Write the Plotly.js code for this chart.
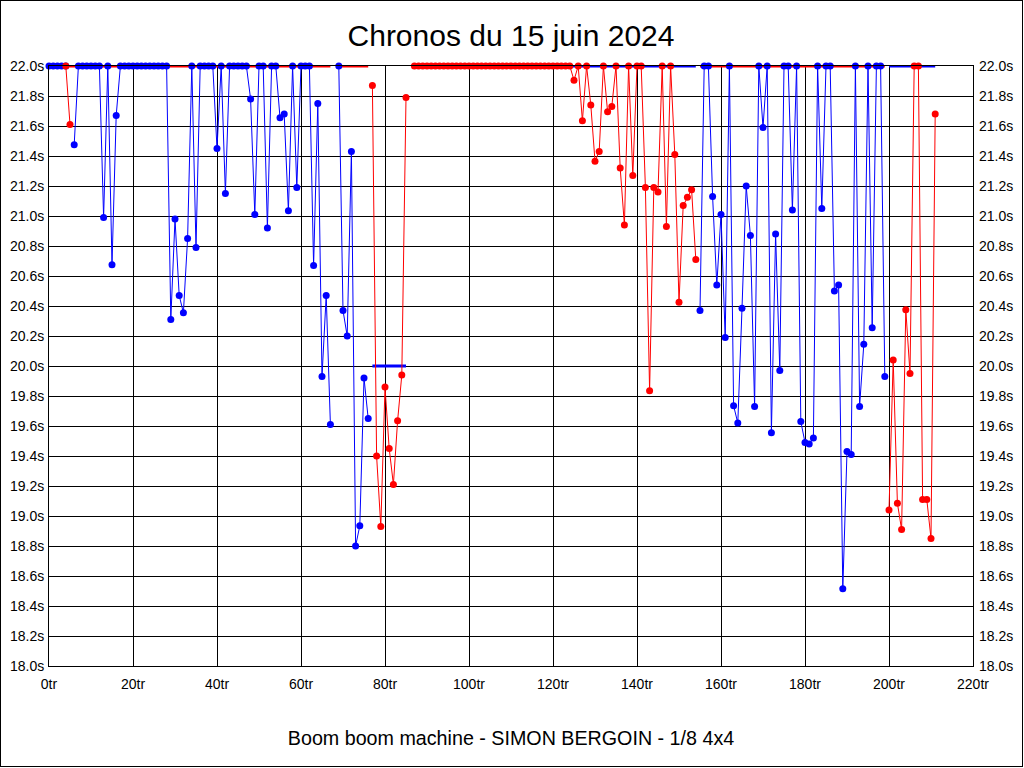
<!DOCTYPE html>
<html>
<head>
<meta charset="utf-8">
<script src="https://cdn.plot.ly/plotly-3.0.1.min.js"></script>
<style>
  html, body { margin: 0; padding: 0; background: #fff; }
  #chart { position: absolute; left: 0; top: 0; width: 1024px; height: 768px; }
  #frame { position: absolute; left: 0; top: 0; width: 1023px; height: 767px; box-sizing: border-box; border: 1px solid #000; pointer-events: none; }
</style>
</head>
<body>
<div id="chart"></div>
<div id="frame"></div>
<script>
// ---- Data (lap number -> lap time in seconds; 22 = clipped at the top of the scale; null = no lap) ----
const titleText = 'Chronos du 15 juin 2024';
const xTitleText = 'Boom boom machine - SIMON BERGOIN - 1/8 4x4';

const blueTimes = [
  22, 22, 22, 22, 22, null, 21.475, 22, 22, 22,                 // 0-9
  22, 22, 22, 20.99, 22, 20.675, 21.67, 22, 22, 22,             // 10-19
  22, 22, 22, 22, 22, 22, 22, 22, 22, 20.31,                    // 20-29
  20.98, 20.47, 20.355, 20.85, 22, 20.79, 22, 22, 22, 22,       // 30-39
  21.45, 22, 21.15, 22, 22, 22, 22, 22, 21.78, 21.01,           // 40-49
  22, 22, 20.92, 22, 22, 21.655, 21.68, 21.035, 22, 21.19,      // 50-59
  22, 22, 22, 20.67, 21.75, 19.93, 20.47, 19.61, null, 22,      // 60-69
  20.37, 20.2, 21.43, 18.8, 18.935, 19.92, 19.65, null, null, null, // 70-79
  null, null, null, null, null, null, null, null, null, null,   // 80-89
  null, null, null, null, null, null, null, null, null, null,   // 90-99
  null, null, null, null, null, null, null, null, null, null,   // 100-109
  null, null, null, null, null, null, null, null, null, null,   // 110-119
  null, null, null, null, null, null, null, null, null, null,   // 120-129
  null, null, null, null, null, null, null, null, null, null,   // 130-139
  null, null, null, null, null, null, null, null, null, null,   // 140-149
  null, null, null, null, null, 20.37, 22, 22, 21.13, 20.54,    // 150-159
  21.01, 20.19, 22, 19.735, 19.62, 20.385, 21.2, 20.87, 19.73, 22, // 160-169
  21.59, 22, 19.555, 20.88, 19.97, 22, 22, 21.04, 22, 19.63,    // 170-179
  19.49, 19.48, 19.52, 22, 21.05, 22, 22, 20.5, 20.54, 18.515,  // 180-189
  19.43, 19.41, 22, 19.73, 20.145, 22, 20.255, 22, 22, 19.93,   // 190-199
  null, null, null, null, null, null, null, null, null, null,   // 200-209
  null, null                                                    // 210-211
];

const redTimes = [
  null, null, null, null, 22, 21.61, null, null, null, null,    // 0-9
  null, null, null, null, null, null, null, null, null, null,   // 10-19
  null, null, null, null, null, null, null, null, null, null,   // 20-29
  null, null, null, null, null, null, null, null, null, null,   // 30-39
  null, null, null, null, null, null, null, null, null, null,   // 40-49
  null, null, null, null, null, null, null, null, null, null,   // 50-59
  null, null, null, null, null, null, null, null, null, null,   // 60-69
  null, null, null, null, null, null, null, 21.87, 19.40, 18.93, // 70-79
  19.86, 19.45, 19.21, 19.635, 19.94, 21.79, null, 22, 22, 22,  // 80-89
  22, 22, 22, 22, 22, 22, 22, 22, 22, 22,                       // 90-99
  22, 22, 22, 22, 22, 22, 22, 22, 22, 22,                       // 100-109
  22, 22, 22, 22, 22, 22, 22, 22, 22, 22,                       // 110-119
  22, 22, 22, 22, 22, 21.905, 22, 21.635, 22, 21.74,            // 120-129
  21.365, 21.43, 22, 21.695, 21.73, 22, 21.32, 20.94, 22, 21.27, // 130-139
  22, 22, 21.19, 19.835, 21.19, 21.16, 22, 20.93, 22, 21.41,    // 140-149
  20.425, 21.07, 21.125, 21.175, 20.71, null, null, null, null, null, // 150-159
  null, null, null, null, null, null, null, null, null, null,   // 160-169
  null, null, null, null, null, null, null, null, null, null,   // 170-179
  null, null, null, null, null, null, null, null, null, null,   // 180-189
  null, null, null, null, null, null, null, null, null, null,   // 190-199
  19.04, 20.04, 19.085, 18.91, 20.375, 19.95, 22, 22, 19.11, 19.11, // 200-209
  18.85, 21.68                                                  // 210-211
];

// Stint averages (clipped at 22). Blue stints get a red average line, red stints a blue one.
const blueStintStart = [0, 69, 155];
const blueStintEnd   = [67, 76, 199];
const blueStintAvg   = [22, 22, 22];
const redStintStart  = [77, 87, 200];
const redStintEnd    = [85, 154, 211];
const redStintAvg    = [20.0, 22, 22];

const xTickVals = [0, 20, 40, 60, 80, 100, 120, 140, 160, 180, 200, 220];
const yMin = 18, yMax = 22;

// ---- Build traces ----
const laps = blueTimes.map((_, i) => i);
const BLUE = '#0000ff', RED = '#ff0000';
const FONT = 'Liberation Sans, Arial, sans-serif';

function stintLine(starts, ends, avgs) {
  const x = [], y = [];
  starts.forEach((s, i) => { x.push(s, ends[i], null); y.push(avgs[i], avgs[i], null); });
  return { x, y };
}
const bAvg = stintLine(blueStintStart, blueStintEnd, blueStintAvg);
const rAvg = stintLine(redStintStart, redStintEnd, redStintAvg);

const traces = [
  { x: bAvg.x, y: bAvg.y, mode: 'lines', line: { color: RED, width: 3 }, cliponaxis: false, hoverinfo: 'skip' },
  { x: rAvg.x, y: rAvg.y, mode: 'lines', line: { color: BLUE, width: 3 }, cliponaxis: false, hoverinfo: 'skip' },
  { x: laps, y: blueTimes, mode: 'lines+markers', line: { color: BLUE, width: 1 },
    marker: { color: BLUE, size: 7 }, cliponaxis: false, connectgaps: false },
  { x: laps, y: redTimes, mode: 'lines+markers', line: { color: RED, width: 1 },
    marker: { color: RED, size: 7 }, cliponaxis: false, connectgaps: false },
  // invisible trace to carry the right-hand axis
  { x: [0], y: [yMin], yaxis: 'y2', mode: 'markers', marker: { opacity: 0 }, hoverinfo: 'skip' }
];

const axisCommon = {
  showgrid: true, gridcolor: '#000', gridwidth: 1,
  showline: true, linecolor: '#000', linewidth: 1,
  zeroline: false, ticks: '', fixedrange: true,
  tickfont: { family: FONT, size: 14, color: '#000' }
};

const layout = {
  width: 1024, height: 768,
  margin: { l: 49, r: 51, t: 66, b: 102, pad: 0 },
  paper_bgcolor: '#fff', plot_bgcolor: '#fff',
  showlegend: false, hovermode: false,
  title: { text: titleText, font: { family: FONT, size: 30, color: '#000' },
           x: 0.5, xref: 'paper', xanchor: 'center', y: 1 - 35 / 768, yref: 'container', yanchor: 'middle' },
  xaxis: Object.assign({}, axisCommon, {
    range: [0, 220], tickvals: xTickVals, ticktext: xTickVals.map(v => v + 'tr'),
    mirror: true, ticklabelstandoff: 5,
    title: { text: xTitleText, font: { family: FONT, size: 19.7, color: '#000' }, standoff: 40 }
  }),
  yaxis: Object.assign({}, axisCommon, {
    range: [yMin, yMax], tick0: yMin, dtick: 0.2, tickformat: '.1f', ticksuffix: 's', mirror: true,
    ticklabelstandoff: 1
  }),
  yaxis2: Object.assign({}, axisCommon, {
    range: [yMin, yMax], tick0: yMin, dtick: 0.2, tickformat: '.1f', ticksuffix: 's',
    overlaying: 'y', side: 'right', showgrid: false, showline: false, ticklabelstandoff: 5
  })
};

Plotly.newPlot('chart', traces, layout, { staticPlot: true, displayModeBar: false });
</script>
</body>
</html>
